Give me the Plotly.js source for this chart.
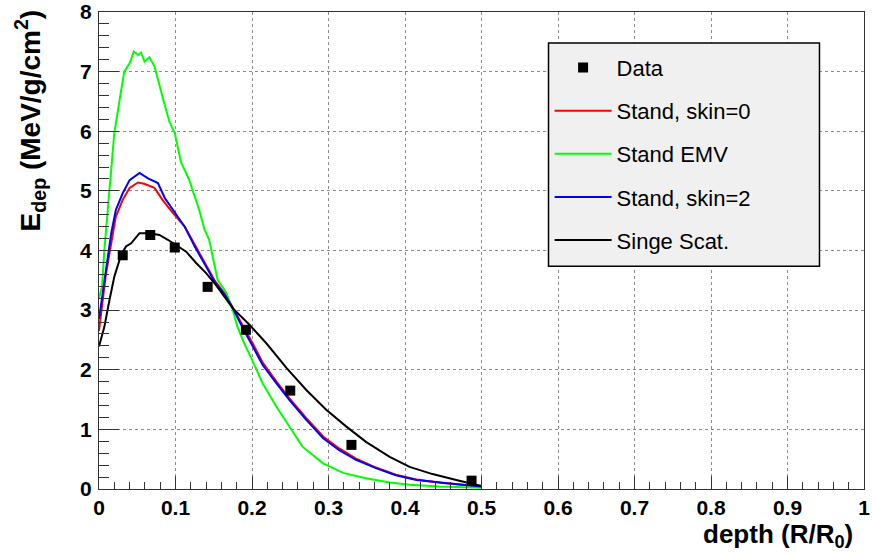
<!DOCTYPE html>
<html>
<head>
<meta charset="utf-8">
<script src="https://cdn.plot.ly/plotly-3.0.1.min.js"></script>
<style>
  html, body { margin: 0; padding: 0; background: #fff; }
  #chart { width: 872px; height: 553px; }
</style>
</head>
<body>
<div id="chart"></div>
<script>
// ---- data ----
const dataX = [0.031, 0.067, 0.099, 0.142, 0.192, 0.250, 0.330, 0.487];
const dataY = [3.92, 4.26, 4.05, 3.39, 2.67, 1.65, 0.74, 0.14];

const skin0X = [0, 0.004, 0.009, 0.0137, 0.022, 0.031, 0.040, 0.051, 0.059, 0.0725, 0.083, 0.0965, 0.112, 0.125, 0.136, 0.151, 0.166, 0.175, 0.188, 0.201, 0.214, 0.232, 0.249, 0.271, 0.293, 0.314, 0.336, 0.362, 0.388, 0.415, 0.449, 0.475, 0.5];
const skin0Y = [2.65, 3.1, 3.6, 3.95, 4.57, 4.85, 5.05, 5.14, 5.12, 5.05, 4.85, 4.63, 4.40, 4.10, 3.84, 3.50, 3.25, 3.05, 2.74, 2.44, 2.12, 1.80, 1.52, 1.19, 0.88, 0.68, 0.51, 0.36, 0.24, 0.16, 0.10, 0.07, 0.04];

const emvX = [0, 0.004, 0.007, 0.0137, 0.020, 0.027, 0.033, 0.040, 0.0455, 0.051, 0.055, 0.0595, 0.066, 0.0725, 0.079, 0.083, 0.092, 0.099, 0.107, 0.118, 0.131, 0.138, 0.144, 0.155, 0.166, 0.175, 0.181, 0.190, 0.201, 0.214, 0.232, 0.249, 0.266, 0.293, 0.319, 0.349, 0.380, 0.406, 0.445, 0.5];
const emvY = [3.2, 3.39, 4.01, 5.07, 5.97, 6.53, 7.0, 7.14, 7.34, 7.28, 7.32, 7.17, 7.24, 7.09, 6.75, 6.58, 6.16, 5.97, 5.49, 5.18, 4.68, 4.35, 4.18, 3.51, 3.30, 3.0, 2.72, 2.44, 2.14, 1.77, 1.38, 1.05, 0.71, 0.43, 0.27, 0.18, 0.11, 0.07, 0.04, 0.02];

const skin2X = [0, 0.005, 0.009, 0.016, 0.022, 0.031, 0.040, 0.053, 0.064, 0.077, 0.086, 0.099, 0.112, 0.125, 0.136, 0.151, 0.166, 0.175, 0.188, 0.201, 0.214, 0.232, 0.249, 0.271, 0.293, 0.314, 0.336, 0.362, 0.388, 0.415, 0.449, 0.475, 0.5];
const skin2Y = [2.85, 3.3, 3.73, 4.29, 4.68, 4.96, 5.18, 5.30, 5.21, 5.13, 4.88, 4.65, 4.40, 4.07, 3.81, 3.48, 3.23, 3.03, 2.70, 2.39, 2.08, 1.77, 1.49, 1.16, 0.85, 0.65, 0.49, 0.35, 0.23, 0.15, 0.10, 0.07, 0.04];

const singleX = [0, 0.007, 0.0137, 0.020, 0.029, 0.0355, 0.042, 0.053, 0.066, 0.079, 0.090, 0.101, 0.114, 0.127, 0.140, 0.153, 0.175, 0.197, 0.219, 0.245, 0.271, 0.297, 0.323, 0.349, 0.380, 0.406, 0.436, 0.467, 0.5];
const singleY = [2.39, 2.72, 3.17, 3.56, 3.93, 4.07, 4.12, 4.29, 4.29, 4.26, 4.18, 4.09, 3.98, 3.79, 3.62, 3.42, 3.03, 2.75, 2.44, 2.03, 1.66, 1.33, 1.05, 0.79, 0.54, 0.37, 0.25, 0.15, 0.05];

const seriesNames = ["Data", "Stand, skin=0", "Stand EMV", "Stand, skin=2", "Singe Scat."];
const xTitle = "depth (R/R<sub>0</sub>)";
const yTitle = "E<sub>dep</sub> (MeV/g/cm<sup>2</sup>)";

// ---- chart ----
const lineW = 2;
const traces = [
  {x: skin0X, y: skin0Y, name: seriesNames[1], mode: "lines", line: {color: "#ff0000", width: lineW}, legendrank: 2, legendgroup: "g2"},
  {x: emvX, y: emvY, name: seriesNames[2], mode: "lines", line: {color: "#00ff00", width: lineW}, legendrank: 3, legendgroup: "g3"},
  {x: skin2X, y: skin2Y, name: seriesNames[3], mode: "lines", line: {color: "#0000ff", width: lineW}, legendrank: 4, legendgroup: "g4"},
  {x: singleX, y: singleY, name: seriesNames[4], mode: "lines", line: {color: "#000000", width: lineW}, legendrank: 5, legendgroup: "g5"},
  {x: dataX, y: dataY, name: seriesNames[0], mode: "markers", marker: {symbol: "square", size: 10, color: "#000000"}, legendrank: 1, legendgroup: "g1"}
];

const axisFont = {family: "Liberation Sans, Arial, sans-serif", size: 21, color: "#000", weight: "bold"};
const gridCommon = {gridcolor: "#8c8c8c", griddash: "dot", gridwidth: 1, showline: true, linecolor: "#333", linewidth: 1, mirror: true, zeroline: false, ticks: "inside", tickcolor: "#333", tickwidth: 1, tickfont: axisFont};

const layout = {
  width: 872, height: 553,
  margin: {l: 99, r: 8, t: 12, b: 64},
  paper_bgcolor: "#fff", plot_bgcolor: "#fff",
  showlegend: true,
  xaxis: Object.assign({}, gridCommon, {
    range: [0, 1], dtick: 0.1, tick0: 0, ticklen: 13, ticklabelstandoff: 0,
    tickformat: "~g",
    minor: {dtick: 0.02, ticks: "inside", ticklen: 7, tickcolor: "#333", showgrid: false}
  }),
  yaxis: Object.assign({}, gridCommon, {
    range: [0, 8], dtick: 1, tick0: 0, ticklen: 20, ticklabelstandoff: 2,
    minor: {dtick: 0.2, ticks: "inside", ticklen: 10, tickcolor: "#333", showgrid: false}
  }),
  legend: {
    x: 0.589, y: 0.927, xanchor: "left", yanchor: "top",
    bgcolor: "rgba(0,0,0,0)", borderwidth: 0,
    font: {family: "Liberation Sans, Arial, sans-serif", size: 22, color: "#000"},
    tracegroupgap: 11.5, traceorder: "grouped", itemwidth: 57
  },
  shapes: [{
    type: "rect", xref: "paper", yref: "paper", layer: "above",
    x0: 0.5876, x1: 0.9418, y0: 0.467, y1: 0.935,
    fillcolor: "#f0f0f0", line: {color: "#000", width: 1.5}
  }],
  annotations: [
    {text: xTitle, xref: "paper", yref: "paper", x: 0.9876, y: -0.058, xanchor: "right", yanchor: "top", showarrow: false,
     font: {family: "Liberation Sans, Arial, sans-serif", size: 26, color: "#000", weight: "bold"}},
    {text: yTitle, xref: "paper", yref: "paper", x: -0.09, y: 1.01, xanchor: "center", yanchor: "top", textangle: -90, showarrow: false,
     font: {family: "Liberation Sans, Arial, sans-serif", size: 28, color: "#000", weight: "bold"}}
  ]
};

Plotly.newPlot("chart", traces, layout, {displayModeBar: false, staticPlot: true});
</script>
</body>
</html>
